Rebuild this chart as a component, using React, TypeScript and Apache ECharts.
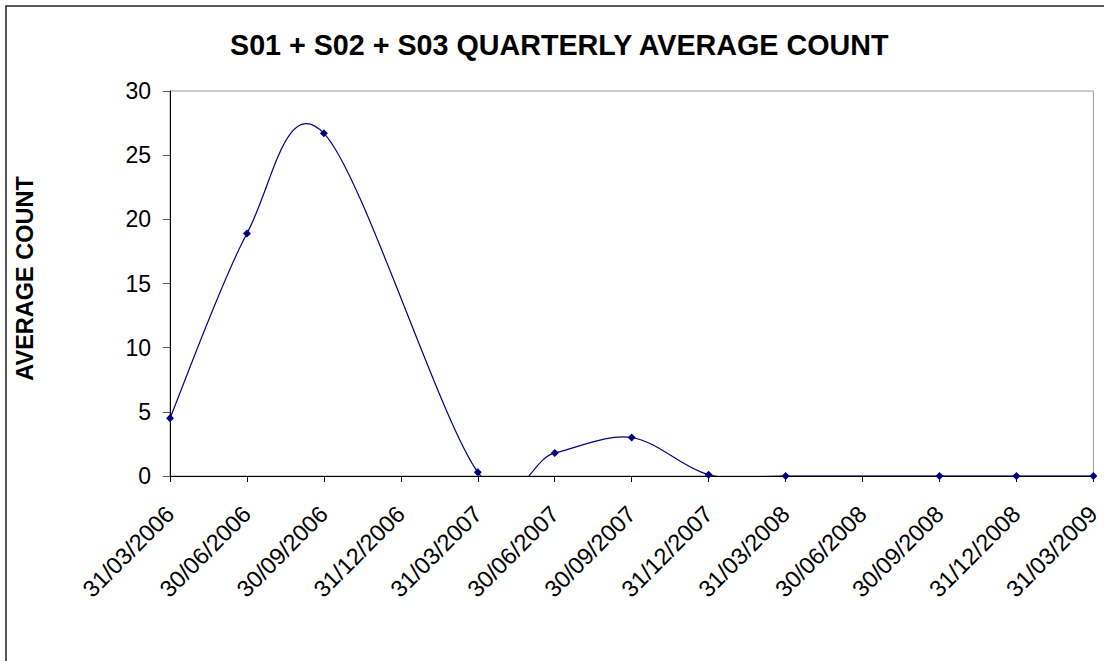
import React, { useEffect, useRef } from "react";
import * as echarts from "echarts";

const categories = [
  "31/03/2006", "30/06/2006", "30/09/2006", "31/12/2006", "31/03/2007",
  "30/06/2007", "30/09/2007", "31/12/2007", "31/03/2008", "30/06/2008",
  "30/09/2008", "31/12/2008", "31/03/2009",
];
const averageCount: (number | null)[] = [
  4.5, 18.9, 26.7, null, 0.3, 1.8, 3.0, 0.1, 0, null, 0, 0, 0,
];
const yTicks = { min: 0, max: 30, interval: 5 };
const titleText = "S01 + S02 + S03 QUARTERLY AVERAGE COUNT";
const yAxisName = "AVERAGE COUNT";

const FONT = "'Liberation Sans', Arial, sans-serif";
const LINE_COLOR = "#000080";

// Excel-style smoothed line (Catmull-Rom Bezier) through the non-null points,
// positioned through the chart's own axes via api.coord.
function renderSmooth(params: any, api: any) {
  const pts: number[][] = [];
  averageCount.forEach((v, i) => {
    if (v !== null) pts.push(api.coord([i, v]));
  });
  const children: any[] = [];
  for (let i = 0; i < pts.length - 1; i++) {
    const p0 = pts[i - 1] || pts[i];
    const p1 = pts[i];
    const p2 = pts[i + 1];
    const p3 = pts[i + 2] || pts[i + 1];
    children.push({
      type: "bezierCurve",
      shape: {
        x1: p1[0],
        y1: p1[1],
        cpx1: p1[0] + (p2[0] - p0[0]) / 6,
        cpy1: p1[1] + (p2[1] - p0[1]) / 6,
        cpx2: p2[0] - (p3[0] - p1[0]) / 6,
        cpy2: p2[1] - (p3[1] - p1[1]) / 6,
        x2: p2[0],
        y2: p2[1],
      },
      style: { fill: "none", stroke: LINE_COLOR, lineWidth: 1.2 },
      silent: true,
    });
  }
  return { type: "group", children };
}

export default function App() {
  const ref = useRef<HTMLDivElement>(null);
  useEffect(() => {
    if (!ref.current) return;
    const chart = echarts.init(ref.current, null, { renderer: "svg" });
    chart.setOption({
      animation: false,
      backgroundColor: "#ffffff",
      textStyle: { fontFamily: FONT },
      title: {
        text: titleText,
        left: 225,
        top: 25,
        textStyle: { fontSize: 28.7, fontWeight: "bold", color: "#000", fontFamily: FONT },
      },
      graphic: [
        {
          type: "rect",
          shape: { x: 6, y: 6, width: 1120, height: 680 },
          style: { fill: "none", stroke: "#222", lineWidth: 1.5 },
          silent: true,
        },
      ],
      grid: {
        left: 170,
        right: 1,
        top: 91,
        bottom: 185,
        show: true,
        borderColor: "#999",
        borderWidth: 1,
        backgroundColor: "transparent",
      },
      xAxis: {
        type: "category",
        data: categories,
        boundaryGap: false,
        axisLine: { show: true, lineStyle: { color: "#000", width: 1 } },
        axisTick: { show: true, length: 6, alignWithLabel: true, lineStyle: { color: "#000" } },
        axisLabel: {
          rotate: 45,
          interval: 0,
          margin: 34,
          fontSize: 23.5,
          color: "#000",
          fontFamily: FONT,
        },
        splitLine: { show: false },
      },
      yAxis: {
        type: "value",
        min: yTicks.min,
        max: yTicks.max,
        interval: yTicks.interval,
        name: yAxisName,
        nameLocation: "middle",
        nameRotate: 90,
        nameGap: 133,
        nameTextStyle: {
          fontSize: 23.5,
          fontWeight: "bold",
          color: "#000",
          fontFamily: FONT,
          padding: [0, 0, 0, 10],
        },
        axisLine: { show: true, lineStyle: { color: "#000", width: 1 } },
        axisTick: { show: true, length: 7, lineStyle: { color: "#555" } },
        axisLabel: { margin: 19, fontSize: 23, color: "#000", fontFamily: FONT },
        splitLine: { show: false },
      },
      series: [
        {
          type: "custom",
          renderItem: renderSmooth,
          data: [[0, 0]],
          clip: true,
          silent: true,
          z: 2,
        },
        {
          type: "line",
          data: averageCount,
          connectNulls: true,
          symbol: "diamond",
          symbolSize: 8,
          showSymbol: true,
          lineStyle: { opacity: 0, width: 0 },
          itemStyle: { color: LINE_COLOR },
          z: 3,
        },
      ],
    });
    return () => chart.dispose();
  }, []);
  return (
    <div
      ref={ref}
      style={{ position: "fixed", left: 0, top: 0, width: 1104, height: 661 }}
    />
  );
}
